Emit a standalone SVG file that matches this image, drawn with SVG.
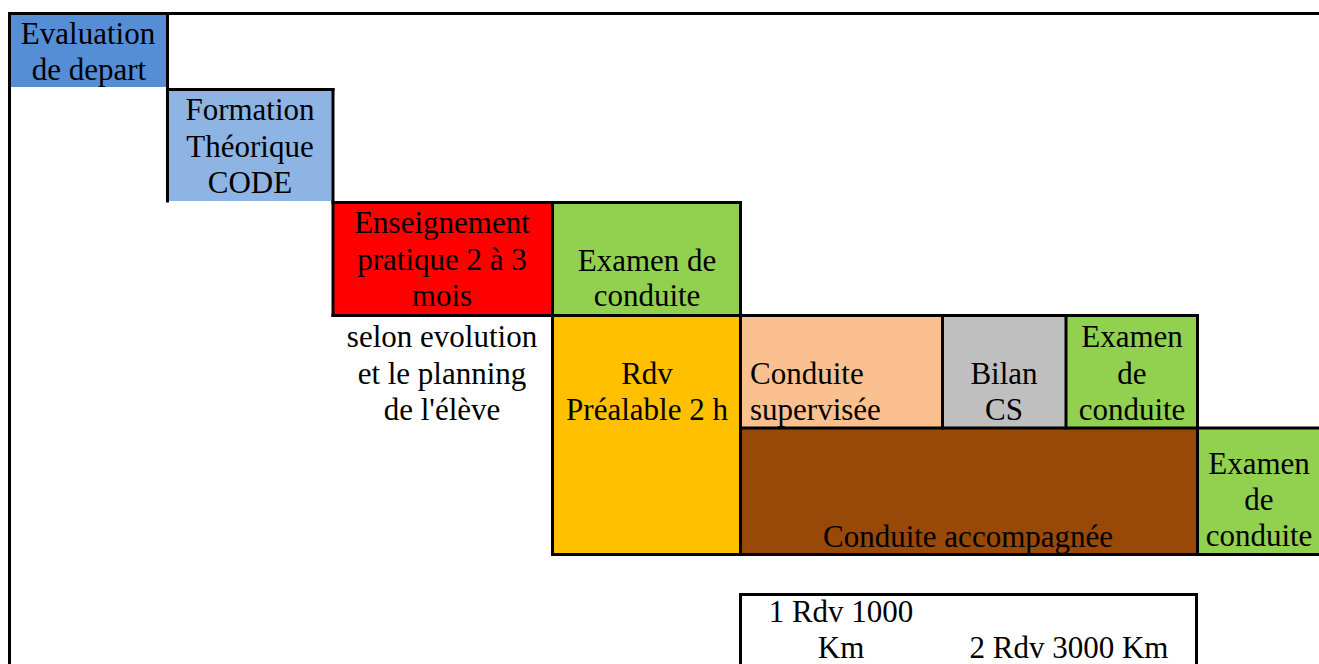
<svg xmlns="http://www.w3.org/2000/svg" width="1319" height="664" viewBox="0 0 1319 664">
<style>
.t{font-size:31px;fill:#000;text-anchor:middle}
.l{text-anchor:start}
.ln{stroke:#000;stroke-width:3;fill:none;stroke-linecap:square}
</style>
<rect width="1319" height="664" fill="#fff"/>
<g font-family="'Liberation Serif', 'Times New Roman', 'DejaVu Serif', serif">
<g id="evaluation">
<rect x="11" y="15" width="155" height="72" fill="#558ED5"/>
<text class="t" x="88" y="44">Evaluation</text>
<text class="t" x="89" y="80">de depart</text>
</g>
<g id="formation">
<rect x="167" y="89" width="166" height="112" fill="#8EB4E3"/>
<text class="t" x="250" y="120">Formation</text>
<text class="t" x="250" y="157">Théorique</text>
<text class="t" x="250" y="193">CODE</text>
</g>
<g id="enseignement">
<rect x="333" y="202" width="219" height="114" fill="#FF0000"/>
<text class="t" x="442" y="233">Enseignement</text>
<text class="t" x="442" y="270">pratique 2 à 3</text>
<text class="t" x="442" y="306">mois</text>
</g>
<g id="examen1">
<rect x="552" y="202" width="189" height="114" fill="#92D050"/>
<text class="t" x="647" y="271">Examen de</text>
<text class="t" x="647" y="306">conduite</text>
</g>
<g id="note-evolution">
<text class="t" x="442" y="347">selon evolution</text>
<text class="t" x="442" y="384">et le planning</text>
<text class="t" x="442" y="420">de l'élève</text>
</g>
<g id="rdv">
<rect x="552" y="315" width="189" height="239" fill="#FFC000"/>
<text class="t" x="647" y="384">Rdv</text>
<text class="t" x="647" y="420">Préalable 2 h</text>
</g>
<g id="conduite-supervisee">
<rect x="741" y="315" width="202" height="113" fill="#FAC090"/>
<text class="t l" x="750" y="384">Conduite</text>
<text class="t l" x="750" y="420">supervisée</text>
</g>
<g id="bilan">
<rect x="943" y="315" width="123" height="113" fill="#BFBFBF"/>
<text class="t" x="1004" y="384">Bilan</text>
<text class="t" x="1004" y="420">CS</text>
</g>
<g id="examen2">
<rect x="1066" y="315" width="132" height="113" fill="#92D050"/>
<text class="t" x="1132" y="347">Examen</text>
<text class="t" x="1132" y="384">de</text>
<text class="t" x="1132" y="420">conduite</text>
</g>
<g id="conduite-accompagnee">
<rect x="741" y="428" width="457" height="126" fill="#984807"/>
<text class="t" x="968" y="547">Conduite accompagnée</text>
</g>
<g id="examen3">
<rect x="1198" y="428" width="121" height="126" fill="#92D050"/>
<text class="t" x="1259" y="474">Examen</text>
<text class="t" x="1259" y="510">de</text>
<text class="t" x="1259" y="546">conduite</text>
</g>
<g id="rdv-km">
<text class="t" x="841" y="622">1 Rdv 1000</text>
<text class="t" x="841" y="658">Km</text>
<text class="t" x="1069" y="658">2 Rdv 3000 Km</text>
</g>
</g>
<g id="connectors">
<path class="ln" d="M9.5 13.5H1319M9.5 13.5V664"/>
<path class="ln" d="M167.5 13.5V201"/>
<path class="ln" d="M167.5 89.5H333"/>
<path class="ln" d="M333 89.5V315.5"/>
<path class="ln" d="M333 202.5H740.5"/>
<path class="ln" d="M333 315.5H1197.5"/>
<path class="ln" d="M552.5 202.5V554.5"/>
<path class="ln" d="M740.5 202.5V554.5"/>
<path class="ln" d="M942.5 315.5V428"/>
<path class="ln" d="M1066 315.5V428"/>
<path class="ln" d="M1197.5 315.5V554.5"/>
<path class="ln" d="M740.5 428H1319"/>
<path class="ln" d="M552.5 554.5H1319"/>
<path class="ln" d="M740.5 664V594.5H1196.5V664"/>
</g>
</svg>
